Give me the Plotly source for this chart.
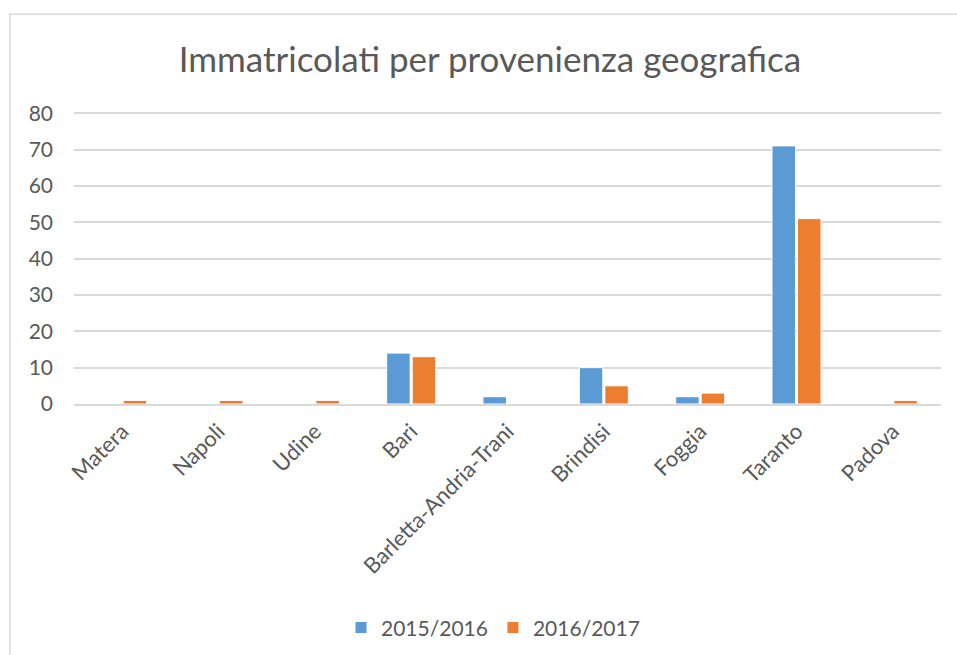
import plotly.graph_objects as go

categories = ["Matera", "Napoli", "Udine", "Bari", "Barletta-Andria-Trani",
              "Brindisi", "Foggia", "Taranto", "Padova"]
series_names = ["2015/2016", "2016/2017"]
values_2015 = [0, 0, 0, 14, 2, 10, 2, 71, 0]
values_2016 = [1, 1, 1, 13, 0, 5, 3, 51, 1]
y_ticks = [0, 10, 20, 30, 40, 50, 60, 70, 80]
colors = ["#5B9BD5", "#ED7D31"]
title_text = "Immatricolati per provenienza geografica"

W, H = 957, 655
ymax = 80.6
ml, mr = 74, 16
y0_px, y80_px = 404, 113
px_per_unit = (y0_px - y80_px) / 80
mt = y80_px - (ymax - 80) * px_per_unit
mb = H - y0_px
pw, ph = W - ml - mr, H - mt - mb


def px_to_paper_x(px):
    return (px - ml) / pw


def px_to_paper_y(py):
    return (y0_px - py) / ph


fig = go.Figure()
for name, vals, c in zip(series_names, [values_2015, values_2016], colors):
    fig.add_trace(go.Bar(x=categories, y=vals, name=name, marker_color=c,
                         marker_line=dict(color="white", width=1)))

font_family = "Lato, Open Sans, sans-serif"
fig.update_layout(
    width=W, height=H,
    margin=dict(l=ml, r=mr, t=mt, b=mb, autoexpand=False),
    paper_bgcolor="white", plot_bgcolor="white",
    barmode="group", bargap=0.47, bargroupgap=0.08,
    title=dict(text=title_text, x=490 / W, xanchor="center",
               y=1 - 60 / H, yanchor="middle",
               font=dict(family=font_family, size=35, color="#595959")),
    font=dict(family=font_family, size=21, color="#595959"),
    xaxis=dict(tickangle=-45, showgrid=False, showline=True, linecolor="#D9D9D9",
               linewidth=1.5, ticks="", ticklabelstandoff=4,
               tickfont=dict(size=22, color="#595959")),
    yaxis=dict(range=[0, ymax], tickvals=y_ticks, showgrid=True, gridcolor="#D9D9D9",
               gridwidth=1.5, zeroline=False, showline=False, ticks="",
               ticklabelstandoff=20, tickfont=dict(size=21, color="#595959")),
    legend=dict(orientation="h", x=px_to_paper_x(493), xanchor="center",
                y=px_to_paper_y(628), yanchor="middle",
                font=dict(size=21, color="#595959"),
                traceorder="normal"),
    showlegend=True,
)
# chart frame border
fig.add_shape(type="rect", xref="paper", yref="paper",
              x0=px_to_paper_x(10), x1=px_to_paper_x(W + 20),
              y0=px_to_paper_y(H + 20), y1=px_to_paper_y(14),
              line=dict(color="#D9D9D9", width=1.5), fillcolor="rgba(0,0,0,0)", layer="below")
fig.write_html("out.html", config={"displayModeBar": False},
               post_script="document.body.style.margin='0';")
